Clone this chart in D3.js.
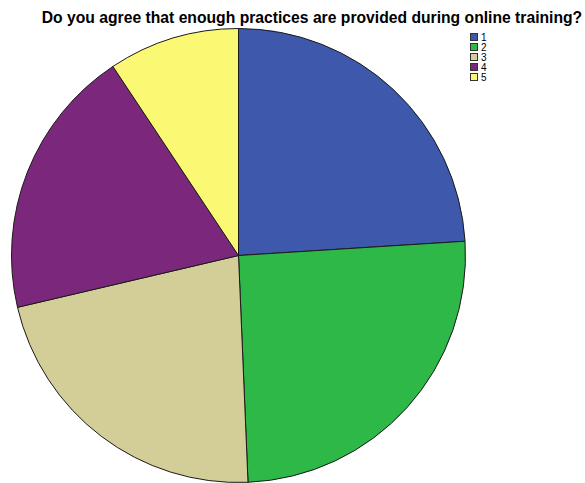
<!DOCTYPE html>
<html>
<head>
<meta charset="utf-8">
<script src="https://cdn.jsdelivr.net/npm/d3@7"></script>
<style>
  html, body { margin: 0; padding: 0; background: #fff; }
  svg { display: block; }
</style>
</head>
<body>
<svg id="chart" width="585" height="483"></svg>
<script>
// Response categories and their frequencies
const categories = ["1", "2", "3", "4", "5"];
const counts = [36, 38, 33, 29, 14];
const colors = ["#3e58ac", "#2eb848", "#d3ce97", "#7b287c", "#fbf873"];
const title = "Do you agree that enough practices are provided during online training?";

const svg = d3.select("#chart");
const W = 585, H = 483;
const cx = 238.5, cy = 255.5, r = 227;

svg.append("rect").attr("width", W).attr("height", H).attr("fill", "#fff");

svg.append("text")
  .attr("x", 312).attr("y", 22.5)
  .attr("text-anchor", "middle")
  .attr("font-family", "Liberation Sans, Arial, sans-serif")
  .attr("font-weight", "bold")
  .attr("font-size", 15.7)
  .attr("fill", "#000")
  .text(title);

const data = categories.map((c, i) => ({ cat: c, value: counts[i] }));
const pie = d3.pie().value(d => d.value).sort(null);
const arc = d3.arc().innerRadius(0).outerRadius(r);
const color = d3.scaleOrdinal().domain(categories).range(colors);

svg.append("g")
  .attr("transform", `translate(${cx},${cy})`)
  .selectAll("path")
  .data(pie(data))
  .join("path")
  .attr("d", arc)
  .attr("fill", d => color(d.data.cat))
  .attr("stroke", "#1a1a1a")
  .attr("stroke-width", 1)
  .attr("stroke-linejoin", "round");

// Legend
const legend = svg.append("g").attr("transform", "translate(470,33)");
const items = legend.selectAll("g")
  .data(categories)
  .join("g")
  .attr("transform", (d, i) => `translate(0,${i * 10})`);
items.append("rect")
  .attr("x", 0.5).attr("y", 0.5)
  .attr("width", 7).attr("height", 7)
  .attr("fill", d => color(d))
  .attr("stroke", "#333")
  .attr("stroke-width", 1);
items.append("text")
  .attr("x", 11).attr("y", 8)
  .attr("font-family", "Liberation Sans, Arial, sans-serif")
  .attr("font-size", 10)
  .attr("fill", "#000")
  .text(d => d);
</script>
</body>
</html>
